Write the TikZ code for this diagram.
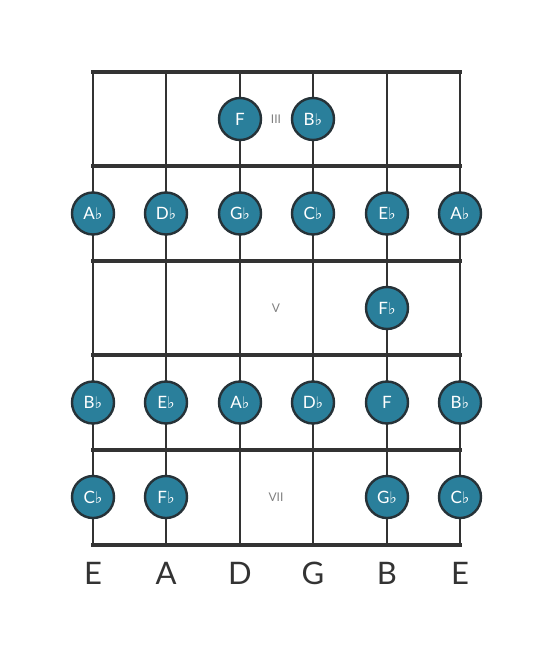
\documentclass[tikz,border=0pt]{standalone}
\usepackage{fontspec}
\setmainfont{Lato}
\newfontfamily\symfont{DejaVu Sans}
\definecolor{notefill}{HTML}{2A7F9B}
\definecolor{noteline}{HTML}{263238}
\definecolor{boardline}{HTML}{333333}
\newcommand{\fl}{{\symfont\fontsize{16}{16}\selectfont ♭}}

\tikzset{string/.style={draw=boardline,line width=2.6pt}}
\tikzset{fret/.style={draw=boardline,line width=4.5pt,line cap=rect}}
\tikzset{note/.style={circle,draw=noteline,line width=2.4pt,fill=notefill,
                      minimum size=42pt,inner sep=0pt,text=white,
                      font=\fontsize{17}{17}\selectfont}}
\tikzset{fretno/.style={text=black!50,font=\fontsize{12}{12}\selectfont}}
\tikzset{stringname/.style={text=boardline,font=\fontsize{31}{31}\selectfont}}

\begin{document}
\begin{tikzpicture}[x=1pt,y=-1pt]
    \useasboundingbox (0,0) rectangle (553,656);
    % strings
    \foreach \x [count=\si] in {93,166,240,313,387,460}{%
          \coordinate (top\si) at (\x,72);
          \coordinate (bot\si) at (\x,545);
          \draw[string] (top\si) -- (bot\si);
        }
    % frets
    \foreach \y [count=\fj] in {72,166,261,355,450,545}{%
          \coordinate (fl\fj) at (93,\y);
          \coordinate (fr\fj) at (460,\y);
          \draw[fret] (fl\fj) -- (fr\fj);
        }
    \foreach \y [count=\mj] in {119,213.5,308,402.5,497}{%
          \coordinate (mid\mj) at (0,\y);
        }
    % fret numbers
    \node[fretno] (pos3) at (276,119) {III};
    \node[fretno] (pos5) at (276,308) {V};
    \node[fretno] (pos7) at (276,497) {VII};
    % notes
    \foreach \s/\f/\t in {3/1/F,4/1/B\fl,
                          1/2/A\fl,2/2/D\fl,3/2/G\fl,4/2/C\fl,5/2/E\fl,6/2/A\fl,
                          5/3/F\fl,
                          1/4/B\fl,2/4/E\fl,3/4/A\fl,4/4/D\fl,5/4/F,6/4/B\fl,
                          1/5/C\fl,2/5/F\fl,5/5/G\fl,6/5/C\fl}{%
          \node[note] (note\s\f) at (top\s |- mid\f) {\t};
        }
    % Labels
    \foreach \n [count=\si] in {E,A,D,G,B,E}{%
          \node[stringname] (name\si) at (bot\si |- 0,573) {\n};
        }
\end{tikzpicture}
\end{document}
